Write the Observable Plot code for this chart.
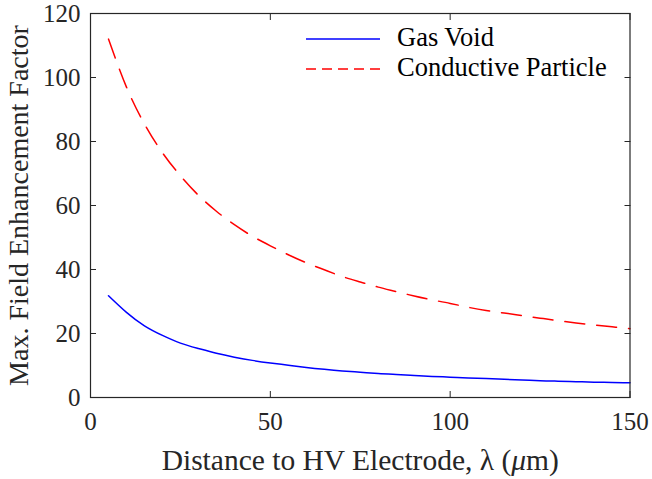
<!DOCTYPE html>
<html><head><meta charset="utf-8">
<script src="https://cdn.jsdelivr.net/npm/d3@7"></script>
<script src="https://cdn.jsdelivr.net/npm/@observablehq/plot@0.6"></script>
<style>
body{margin:0;background:#fff;}
#wrap{position:relative;width:652px;height:479px;}
</style></head><body><div id="wrap"></div>
<script>
// Distance to HV electrode (μm)
const distance = [5,10,15,20,25,30,35,40,45,50,55,60,65,70,75,80,85,90,95,100,105,110,115,120,125,130,135,140,145,150];
// Max. field enhancement factor — gas void (solid blue)
const gasVoid = [31.8,26.6,22.4,19.4,17.0,15.3,13.8,12.6,11.6,10.8,10.1,9.4,8.8,8.3,7.9,7.5,7.2,6.9,6.6,6.35,6.1,5.9,5.7,5.5,5.25,5.1,4.95,4.8,4.7,4.58];
// Max. field enhancement factor — conductive particle (dashed red)
const conductiveParticle = [112,97,85.5,76.5,69.3,63.2,58.2,54.0,50.4,47.4,44.6,42.1,39.9,37.8,36.1,34.5,33.1,31.7,30.5,29.4,28.2,27.2,26.4,25.6,24.8,24.0,23.3,22.7,22.1,21.5];
const seriesNames = ["Gas Void", "Conductive Particle"];
const seriesColors = ["#0000ff", "#ff0000"];
const xTicks = [0, 50, 100, 150];
const yTicks = [0, 20, 40, 60, 80, 100, 120];
const xLabel = "Distance to HV Electrode, λ (μm)";
const yLabel = "Max. Field Enhancement Factor";

const gasRows = distance.map((d, i) => ({x: d, y: gasVoid[i]}));
const condRows = distance.map((d, i) => ({x: d, y: conductiveParticle[i]}));

const axisColor = "#262626";
const chart = Plot.plot({
  width: 652,
  height: 479,
  marginLeft: 90,
  marginRight: 22.5,
  marginTop: 13,
  marginBottom: 82,
  style: {fontFamily: "Liberation Serif", fontSize: "25px", color: axisColor, background: "#fff"},
  x: {domain: [0, 150]},
  y: {domain: [0, 120]},
  marks: [
    Plot.line(gasRows, {x: "x", y: "y", stroke: seriesColors[0], strokeWidth: 1.5, curve: "natural"}),
    Plot.line(condRows, {x: "x", y: "y", stroke: seriesColors[1], strokeWidth: 1.5, strokeDasharray: "20,12", curve: "natural"}),
    Plot.axisX({anchor: "bottom", ticks: xTicks, tickSize: -6, tickPadding: 21, stroke: axisColor, label: xLabel, labelAnchor: "center", labelArrow: "none", labelOffset: 72}),
    Plot.axisX({anchor: "top", ticks: xTicks, tickSize: -6, tickFormat: () => "", stroke: axisColor, label: null}),
    Plot.axisY({anchor: "left", ticks: yTicks, tickSize: -6, tickPadding: 16, stroke: axisColor, label: yLabel, labelAnchor: "center", labelArrow: "none", labelOffset: 82}),
    Plot.axisY({anchor: "right", ticks: yTicks, tickSize: -6, tickFormat: () => "", stroke: axisColor, label: null}),
    Plot.frame({stroke: axisColor, strokeWidth: 1.2})
  ]
});
document.getElementById("wrap").appendChild(chart);

const svg = d3.select(chart);
// axis label font size + italic mu
svg.selectAll("g[aria-label='y-axis label'] text").style("font-size", "28px");
svg.selectAll("g[aria-label='x-axis label'] text").style("font-size", "29.5px");
svg.selectAll("g[aria-label='x-axis label'] text").each(function() {
  const t = d3.select(this);
  const s = t.text();
  const idx = s.indexOf("μ");
  if (idx >= 0) {
    t.text(null);
    t.append("tspan").text(s.slice(0, idx));
    t.append("tspan").attr("font-style", "italic").text("μ");
    t.append("tspan").text(s.slice(idx + 1));
  }
});

// legend (inside top right, no box)
const lg = svg.append("g").attr("font-family", "Liberation Serif").attr("font-size", "26.5px").attr("text-anchor", "start");
seriesNames.forEach((name, i) => {
  const y = 39 + i * 30;
  lg.append("line").attr("x1", 306).attr("x2", 380).attr("y1", y).attr("y2", y)
    .attr("stroke", seriesColors[i]).attr("stroke-width", 1.5)
    .attr("stroke-dasharray", i === 1 ? "10,6" : null);
  lg.append("text").attr("x", 397).attr("y", y + 7).attr("fill", "#000").attr("text-anchor", "start").text(name);
});
</script></body></html>
